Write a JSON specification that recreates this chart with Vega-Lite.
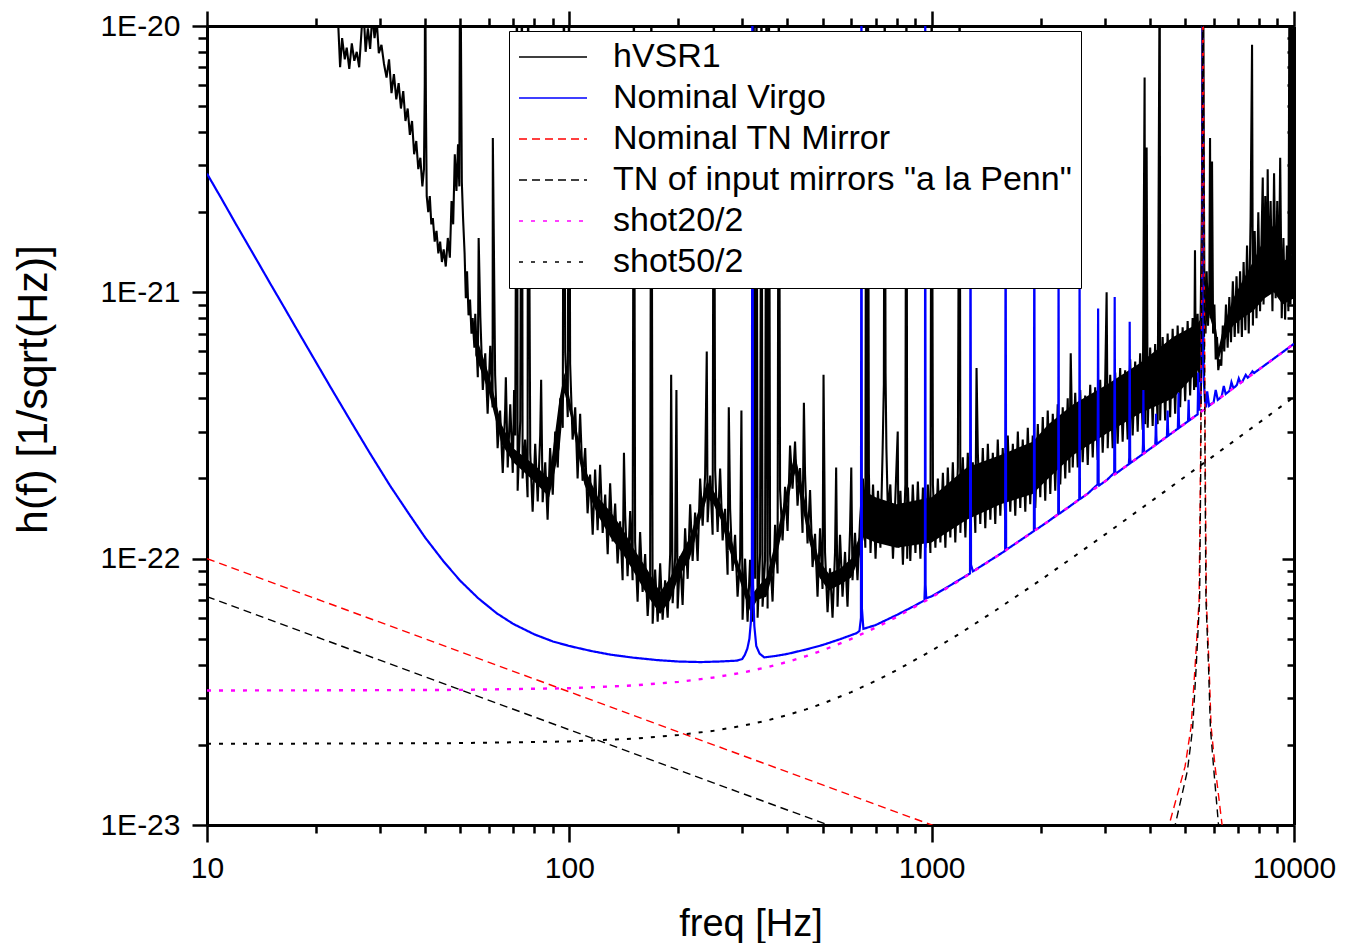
{
"$schema": "https://vega.github.io/schema/vega-lite/v6.json",
"width": 1087, "height": 799,
"autosize": {"type": "none"},
"padding": {"left": 207, "top": 26, "right": 57, "bottom": 118},
"background": "white",
"config": {"view": {"stroke": null}, "font": "Liberation Sans",
 "axis": {"grid": false, "domainColor": "black", "tickColor": "black", "labelColor": "black", "titleColor": "black", "titleFontWeight": "normal", "tickWidth": 2.5, "domainWidth": 3, "labelFont": "Liberation Sans", "titleFont": "Liberation Sans"}},
"data": {"values": [
{"s":"hVSR1","f":22,"h":1.4e-20},{"s":"hVSR1","f":23,"h":1.05e-20},{"s":"hVSR1","f":23.3,"h":7e-21},{"s":"hVSR1","f":23.6,"h":9e-21},{"s":"hVSR1","f":24,"h":7.5e-21},{"s":"hVSR1","f":24.3,"h":8.3e-21},{"s":"hVSR1","f":24.7,"h":6.9e-21},{"s":"hVSR1","f":25.1,"h":8.6e-21},{"s":"hVSR1","f":25.5,"h":7.4e-21},{"s":"hVSR1","f":25.9,"h":8e-21},{"s":"hVSR1","f":26.3,"h":7e-21},{"s":"hVSR1","f":26.7,"h":9.6e-21},{"s":"hVSR1","f":27,"h":1.2e-20},{"s":"hVSR1","f":27.4,"h":8e-21},{"s":"hVSR1","f":27.8,"h":9.8e-21},{"s":"hVSR1","f":28.2,"h":8.2e-21},{"s":"hVSR1","f":28.6,"h":1.1e-20},{"s":"hVSR1","f":29,"h":9e-21},{"s":"hVSR1","f":29.4,"h":1.05e-20},{"s":"hVSR1","f":29.8,"h":7.9e-21},{"s":"hVSR1","f":30.3,"h":8.5e-21},{"s":"hVSR1","f":30.8,"h":7.2e-21},
{"s":"hVSR1","f":31.3,"h":6.4e-21},{"s":"hVSR1","f":31.8,"h":7.5e-21},{"s":"hVSR1","f":32.3,"h":5.6e-21},{"s":"hVSR1","f":32.8,"h":6.6e-21},{"s":"hVSR1","f":33.3,"h":5.3e-21},{"s":"hVSR1","f":33.8,"h":6.1e-21},{"s":"hVSR1","f":34.3,"h":4.9e-21},{"s":"hVSR1","f":34.8,"h":5.7e-21},{"s":"hVSR1","f":35.3,"h":4.4e-21},{"s":"hVSR1","f":35.8,"h":4.9e-21},{"s":"hVSR1","f":36.3,"h":3.9e-21},{"s":"hVSR1","f":36.8,"h":4.4e-21},{"s":"hVSR1","f":37.3,"h":3.3e-21},{"s":"hVSR1","f":37.8,"h":3.7e-21},{"s":"hVSR1","f":38.3,"h":2.9e-21},{"s":"hVSR1","f":38.8,"h":3.2e-21},{"s":"hVSR1","f":39.3,"h":2.5e-21},{"s":"hVSR1","f":39.7,"h":2.9e-21},{"s":"hVSR1","f":39.9,"h":6e-21},{"s":"hVSR1","f":40,"h":2e-20},{"s":"hVSR1","f":40.2,"h":5e-21},{"s":"hVSR1","f":40.4,"h":2.3e-21},{"s":"hVSR1","f":40.8,"h":2e-21},{"s":"hVSR1","f":41.2,"h":2.3e-21},{"s":"hVSR1","f":41.6,"h":1.8e-21},{"s":"hVSR1","f":42,"h":1.9e-21},{"s":"hVSR1","f":42.5,"h":1.55e-21},{"s":"hVSR1","f":43,"h":1.7e-21},{"s":"hVSR1","f":43.5,"h":1.4e-21},{"s":"hVSR1","f":44,"h":1.55e-21},{"s":"hVSR1","f":44.5,"h":1.3e-21},{"s":"hVSR1","f":45,"h":1.45e-21},{"s":"hVSR1","f":45.6,"h":1.25e-21},{"s":"hVSR1","f":46.2,"h":1.6e-21},{"s":"hVSR1","f":46.8,"h":1.35e-21},{"s":"hVSR1","f":47.3,"h":2.2e-21},{"s":"hVSR1","f":47.8,"h":1.8e-21},{"s":"hVSR1","f":48.3,"h":3.3e-21},{"s":"hVSR1","f":48.8,"h":2.4e-21},{"s":"hVSR1","f":49.3,"h":3.6e-21},{"s":"hVSR1","f":49.7,"h":2.5e-21},{"s":"hVSR1","f":49.9,"h":1.5e-20},{"s":"hVSR1","f":50,"h":2e-20},{"s":"hVSR1","f":50.2,"h":1e-20},{"s":"hVSR1","f":50.5,"h":2.6e-21},{"s":"hVSR1","f":50.9,"h":1.9e-21},{"s":"hVSR1","f":51.4,"h":1.4e-21},{"s":"hVSR1","f":51.8,"h":9.5e-22},{"s":"hVSR1","f":52.2,"h":1.2e-21},{"s":"hVSR1","f":52.7,"h":8.2e-22},{"s":"hVSR1","f":53.2,"h":9.4e-22},{"s":"hVSR1","f":53.7,"h":7e-22},{"s":"hVSR1","f":54.1,"h":8e-22},{"s":"hVSR1","f":54.7,"h":6.2e-22},
{"s":"hVSR1","f":55,"h":8.3e-22},{"s":"hVSR1","f":55.9,"h":4.8e-22},{"s":"hVSR1","f":56.2,"h":1.6e-21},{"s":"hVSR1","f":56.8,"h":8.1e-22},{"s":"hVSR1","f":57.7,"h":4.3e-22},{"s":"hVSR1","f":58.6,"h":5.9e-22},{"s":"hVSR1","f":59.5,"h":3.5e-22},{"s":"hVSR1","f":60.5,"h":6.3e-22},{"s":"hVSR1","f":61.4,"h":3.7e-22},{"s":"hVSR1","f":61.5,"h":3.8e-21},{"s":"hVSR1","f":62.4,"h":4.9e-22},{"s":"hVSR1","f":63.4,"h":2.6e-22},{"s":"hVSR1","f":64.4,"h":3.6e-22},{"s":"hVSR1","f":65.5,"h":2.1e-22},{"s":"hVSR1","f":66.5,"h":3.6e-22},{"s":"hVSR1","f":66.8,"h":4.8e-22},{"s":"hVSR1","f":67.6,"h":2.2e-22},{"s":"hVSR1","f":68.7,"h":3.8e-22},{"s":"hVSR1","f":69.8,"h":2.1e-22},{"s":"hVSR1","f":70.4,"h":4.3e-22},{"s":"hVSR1","f":70.9,"h":2.9e-22},{"s":"hVSR1","f":71.7,"h":2e-20},{"s":"hVSR1","f":72,"h":1.8e-22},{"s":"hVSR1","f":73.2,"h":3.3e-22},{"s":"hVSR1","f":74,"h":2e-20},{"s":"hVSR1","f":74.3,"h":2e-22},{"s":"hVSR1","f":75.5,"h":2.8e-22},{"s":"hVSR1","f":76.7,"h":1.7e-22},{"s":"hVSR1","f":76.9,"h":2e-20},{"s":"hVSR1","f":78,"h":2.5e-22},{"s":"hVSR1","f":79.2,"h":1.5e-22},{"s":"hVSR1","f":80.5,"h":2.7e-22},{"s":"hVSR1","f":81.8,"h":1.64e-22},{"s":"hVSR1","f":83.1,"h":2.9e-22},{"s":"hVSR1","f":83.6,"h":4.7e-22},{"s":"hVSR1","f":84.4,"h":1.63e-22},{"s":"hVSR1","f":85.8,"h":2.3e-22},{"s":"hVSR1","f":87.1,"h":1.4e-22},{"s":"hVSR1","f":88.5,"h":2.6e-22},{"s":"hVSR1","f":90,"h":1.74e-22},{"s":"hVSR1","f":91.4,"h":3e-22},{"s":"hVSR1","f":92.9,"h":2.2e-22},{"s":"hVSR1","f":94.4,"h":4e-22},{"s":"hVSR1","f":95.9,"h":3.1e-22},{"s":"hVSR1","f":96.6,"h":2e-20},{"s":"hVSR1","f":97.4,"h":6e-22},{"s":"hVSR1","f":99,"h":3.4e-22},{"s":"hVSR1","f":99.8,"h":2e-20},{"s":"hVSR1","f":100.5,"h":5.4e-22},{"s":"hVSR1","f":102.1,"h":2.8e-22},{"s":"hVSR1","f":103.8,"h":3.7e-22},{"s":"hVSR1","f":105.4,"h":2e-22},{"s":"hVSR1","f":107.1,"h":3.5e-22},{"s":"hVSR1","f":108.8,"h":1.96e-22},{"s":"hVSR1","f":110.6,"h":2.6e-22},{"s":"hVSR1","f":112.3,"h":1.48e-22},{"s":"hVSR1","f":114.1,"h":2.07e-22},{"s":"hVSR1","f":116,"h":1.23e-22},{"s":"hVSR1","f":117.8,"h":2.16e-22},{"s":"hVSR1","f":119.7,"h":1.28e-22},{"s":"hVSR1","f":121.6,"h":2.25e-22},{"s":"hVSR1","f":123.6,"h":1.25e-22},{"s":"hVSR1","f":125.6,"h":1.74e-22},{"s":"hVSR1","f":127.6,"h":1.04e-22},{"s":"hVSR1","f":129.6,"h":1.92e-22},{"s":"hVSR1","f":131.7,"h":1.16e-22},{"s":"hVSR1","f":133.8,"h":1.61e-22},{"s":"hVSR1","f":135.9,"h":9.6e-23},{"s":"hVSR1","f":138.1,"h":1.38e-22},{"s":"hVSR1","f":140.3,"h":8.3e-23},{"s":"hVSR1","f":141.5,"h":2.5e-22},{"s":"hVSR1","f":142.6,"h":1.46e-22},{"s":"hVSR1","f":144.8,"h":8.6e-23},{"s":"hVSR1","f":147.2,"h":1.51e-22},{"s":"hVSR1","f":149.5,"h":8.3e-23},{"s":"hVSR1","f":150.7,"h":2e-20},{"s":"hVSR1","f":151.9,"h":1.16e-22},{"s":"hVSR1","f":154.3,"h":6.9e-23},{"s":"hVSR1","f":156.8,"h":1.26e-22},{"s":"hVSR1","f":159.3,"h":7.5e-23},{"s":"hVSR1","f":161.9,"h":1.04e-22},{"s":"hVSR1","f":164.5,"h":6.1e-23},{"s":"hVSR1","f":167.1,"h":8.7e-23},{"s":"hVSR1","f":168.4,"h":2e-20},{"s":"hVSR1","f":169.8,"h":5.7e-23},{"s":"hVSR1","f":172.5,"h":9.1e-23},{"s":"hVSR1","f":175.3,"h":5.8e-23},{"s":"hVSR1","f":178.1,"h":9.6e-23},{"s":"hVSR1","f":180.9,"h":5.9e-23},{"s":"hVSR1","f":183.8,"h":8.3e-23},{"s":"hVSR1","f":186.8,"h":6e-23},{"s":"hVSR1","f":189.8,"h":1.04e-22},{"s":"hVSR1","f":191,"h":4.9e-22},{"s":"hVSR1","f":192.8,"h":6.8e-23},{"s":"hVSR1","f":195.9,"h":1.01e-22},{"s":"hVSR1","f":197.5,"h":4.3e-22},{"s":"hVSR1","f":199,"h":6.5e-23},{"s":"hVSR1","f":202.2,"h":1.02e-22},{"s":"hVSR1","f":205.4,"h":6.7e-23},{"s":"hVSR1","f":208.7,"h":1.3e-22},{"s":"hVSR1","f":212.1,"h":8.4e-23},{"s":"hVSR1","f":215.5,"h":1.6e-22},{"s":"hVSR1","f":218.9,"h":9.8e-23},{"s":"hVSR1","f":222.4,"h":1.49e-22},{"s":"hVSR1","f":226,"h":9.8e-23},{"s":"hVSR1","f":229.6,"h":2e-22},{"s":"hVSR1","f":233.3,"h":1.33e-22},{"s":"hVSR1","f":237,"h":2.06e-22},{"s":"hVSR1","f":239.5,"h":6e-22},{"s":"hVSR1","f":240.8,"h":1.37e-22},{"s":"hVSR1","f":244.7,"h":2.05e-22},{"s":"hVSR1","f":248.6,"h":1.23e-22},{"s":"hVSR1","f":250.5,"h":2e-20},{"s":"hVSR1","f":252.6,"h":2.15e-22},{"s":"hVSR1","f":256.6,"h":1.26e-22},{"s":"hVSR1","f":260.7,"h":2.18e-22},{"s":"hVSR1","f":264.9,"h":1.17e-22},{"s":"hVSR1","f":269.1,"h":1.54e-22},{"s":"hVSR1","f":273.4,"h":8.7e-23},{"s":"hVSR1","f":275.5,"h":3.7e-22},{"s":"hVSR1","f":277.8,"h":1.54e-22},{"s":"hVSR1","f":282.2,"h":9e-23},{"s":"hVSR1","f":286.7,"h":1.23e-22},{"s":"hVSR1","f":291.3,"h":7.2e-23},{"s":"hVSR1","f":296,"h":1.01e-22},{"s":"hVSR1","f":298.5,"h":3.6e-22},{"s":"hVSR1","f":300.7,"h":5.9e-23},{"s":"hVSR1","f":305.5,"h":1e-22},{"s":"hVSR1","f":310.4,"h":5.8e-23},{"s":"hVSR1","f":315.4,"h":9.9e-23},{"s":"hVSR1","f":320.4,"h":5.8e-23},{"s":"hVSR1","f":322.5,"h":2e-20},{"s":"hVSR1","f":325.6,"h":8.4e-23},{"s":"hVSR1","f":328.5,"h":2e-20},{"s":"hVSR1","f":330.8,"h":6e-23},{"s":"hVSR1","f":336.1,"h":1.04e-22},{"s":"hVSR1","f":339,"h":2e-20},{"s":"hVSR1","f":341.4,"h":6.6e-23},{"s":"hVSR1","f":346.9,"h":9.9e-23},{"s":"hVSR1","f":350,"h":2e-20},{"s":"hVSR1","f":352.5,"h":6.5e-23},{"s":"hVSR1","f":355.5,"h":2e-20},{"s":"hVSR1","f":358.1,"h":1.04e-22},{"s":"hVSR1","f":363.8,"h":6.9e-23},{"s":"hVSR1","f":369.7,"h":1.34e-22},{"s":"hVSR1","f":375.6,"h":8.8e-23},{"s":"hVSR1","f":378.5,"h":2e-20},{"s":"hVSR1","f":381.6,"h":1.81e-22},{"s":"hVSR1","f":387.7,"h":1.17e-22},{"s":"hVSR1","f":393.9,"h":1.86e-22},{"s":"hVSR1","f":400.2,"h":1.27e-22},{"s":"hVSR1","f":406.6,"h":2.66e-22},{"s":"hVSR1","f":413.1,"h":1.83e-22},{"s":"hVSR1","f":419.7,"h":2.75e-22},{"s":"hVSR1","f":426.4,"h":1.58e-22},{"s":"hVSR1","f":433.3,"h":2.19e-22},{"s":"hVSR1","f":440.2,"h":1.25e-22},{"s":"hVSR1","f":444,"h":3.85e-22},{"s":"hVSR1","f":447.2,"h":2.08e-22},{"s":"hVSR1","f":454.4,"h":1.14e-22},{"s":"hVSR1","f":461.7,"h":1.81e-22},{"s":"hVSR1","f":469.1,"h":9.3e-23},{"s":"hVSR1","f":476.6,"h":1.24e-22},{"s":"hVSR1","f":484.2,"h":7.2e-23},{"s":"hVSR1","f":492,"h":1.3e-22},{"s":"hVSR1","f":499.8,"h":7.7e-23},{"s":"hVSR1","f":503,"h":4.9e-22},{"s":"hVSR1","f":507.8,"h":1.06e-22},{"s":"hVSR1","f":516,"h":6.3e-23},{"s":"hVSR1","f":524.2,"h":9.2e-23},{"s":"hVSR1","f":532.6,"h":6e-23},{"s":"hVSR1","f":541.1,"h":1.05e-22},{"s":"hVSR1","f":545,"h":2.2e-22},{"s":"hVSR1","f":549.8,"h":6.6e-23},{"s":"hVSR1","f":558.6,"h":1.23e-22},{"s":"hVSR1","f":567.5,"h":7.2e-23},{"s":"hVSR1","f":576.6,"h":1.06e-22},{"s":"hVSR1","f":585.8,"h":6.6e-23},{"s":"hVSR1","f":595.2,"h":1.27e-22},{"s":"hVSR1","f":600,"h":2.2e-22},{"s":"hVSR1","f":604.7,"h":8.3e-23},{"s":"hVSR1","f":614.4,"h":1.25e-22},{"s":"hVSR1","f":624.2,"h":8.3e-23},{"s":"hVSR1","f":634.2,"h":1.38e-22},
{"s":"hVSR1","f":646,"h":2e-22},{"s":"hVSR1","f":656,"h":1.1e-22},{"s":"hVSR1","f":660,"h":2e-20},{"s":"hVSR1","f":664,"h":1.3e-22},{"s":"hVSR1","f":667,"h":2e-20},{"s":"hVSR1","f":671,"h":2.1e-22},{"s":"hVSR1","f":678,"h":1.05e-22},{"s":"hVSR1","f":689,"h":1.9e-22},{"s":"hVSR1","f":700,"h":1e-22},{"s":"hVSR1","f":711,"h":1.8e-22},{"s":"hVSR1","f":722,"h":1.1e-22},{"s":"hVSR1","f":732,"h":2.5e-22},{"s":"hVSR1","f":738,"h":4.5e-22},{"s":"hVSR1","f":742,"h":2e-20},{"s":"hVSR1","f":746,"h":5e-22},{"s":"hVSR1","f":750,"h":2.6e-22},{"s":"hVSR1","f":757,"h":1.5e-22},{"s":"hVSR1","f":769,"h":1.9e-22},{"s":"hVSR1","f":782,"h":1e-22},{"s":"hVSR1","f":794,"h":1.7e-22},{"s":"hVSR1","f":806,"h":3e-22},{"s":"hVSR1","f":810,"h":1.1e-22},{"s":"hVSR1","f":820,"h":1.8e-22},{"s":"hVSR1","f":833,"h":9.5e-23},{"s":"hVSR1","f":846,"h":1.9e-22},{"s":"hVSR1","f":852,"h":2e-20},{"s":"hVSR1","f":856,"h":1e-22},{"s":"hVSR1","f":860,"h":1.85e-22},{"s":"hVSR1","f":873,"h":9.8e-23},{"s":"hVSR1","f":887,"h":1.9e-22},{"s":"hVSR1","f":902,"h":1.05e-22},{"s":"hVSR1","f":916,"h":1.95e-22},{"s":"hVSR1","f":931,"h":1e-22},{"s":"hVSR1","f":946,"h":1.85e-22},{"s":"hVSR1","f":961,"h":1.1e-22},{"s":"hVSR1","f":976,"h":1.9e-22},{"s":"hVSR1","f":992,"h":1.05e-22},{"s":"hVSR1","f":1000,"h":2e-20},{"s":"hVSR1","f":1008,"h":1.9e-22},{"s":"hVSR1","f":1024,"h":1.1e-22},{"s":"hVSR1","f":1040,"h":2e-22},{"s":"hVSR1","f":1057,"h":1.15e-22},{"s":"hVSR1","f":1074,"h":2.1e-22},{"s":"hVSR1","f":1091,"h":1.1e-22},{"s":"hVSR1","f":1108,"h":2.2e-22},{"s":"hVSR1","f":1126,"h":1.2e-22},{"s":"hVSR1","f":1144,"h":2.3e-22},{"s":"hVSR1","f":1162,"h":1.15e-22},{"s":"hVSR1","f":1181,"h":2.2e-22},{"s":"hVSR1","f":1195,"h":2e-20},{"s":"hVSR1","f":1200,"h":1.25e-22},{"s":"hVSR1","f":1219,"h":2.4e-22},{"s":"hVSR1","f":1239,"h":1.2e-22},{"s":"hVSR1","f":1258,"h":2.5e-22},{"s":"hVSR1","f":1279,"h":1.3e-22},{"s":"hVSR1","f":1299,"h":2.3e-22},{"s":"hVSR1","f":1320,"h":1.25e-22},{"s":"hVSR1","f":1330,"h":5.2e-22},{"s":"hVSR1","f":1341,"h":2.5e-22},{"s":"hVSR1","f":1362,"h":1.35e-22},{"s":"hVSR1","f":1384,"h":2.6e-22},{"s":"hVSR1","f":1406,"h":1.3e-22},{"s":"hVSR1","f":1429,"h":2.7e-22},{"s":"hVSR1","f":1452,"h":1.4e-22},{"s":"hVSR1","f":1475,"h":2.5e-22},{"s":"hVSR1","f":1498,"h":1.35e-22},{"s":"hVSR1","f":1522,"h":2.8e-22},{"s":"hVSR1","f":1547,"h":1.45e-22},{"s":"hVSR1","f":1571,"h":2.6e-22},{"s":"hVSR1","f":1597,"h":1.4e-22},{"s":"hVSR1","f":1622,"h":2.9e-22},{"s":"hVSR1","f":1648,"h":1.5e-22},{"s":"hVSR1","f":1675,"h":2.7e-22},{"s":"hVSR1","f":1701,"h":1.45e-22},{"s":"hVSR1","f":1729,"h":3e-22},{"s":"hVSR1","f":1756,"h":1.55e-22},{"s":"hVSR1","f":1784,"h":2.8e-22},{"s":"hVSR1","f":1813,"h":1.5e-22},{"s":"hVSR1","f":1842,"h":3.1e-22},{"s":"hVSR1","f":1871,"h":1.6e-22},{"s":"hVSR1","f":1901,"h":2.9e-22},{"s":"hVSR1","f":1932,"h":1.55e-22},{"s":"hVSR1","f":1963,"h":3.2e-22},{"s":"hVSR1","f":1994,"h":1.7e-22},{"s":"hVSR1","f":2026,"h":3.4e-22},{"s":"hVSR1","f":2058,"h":1.65e-22},{"s":"hVSR1","f":2091,"h":3.6e-22},{"s":"hVSR1","f":2125,"h":1.75e-22},{"s":"hVSR1","f":2159,"h":3.5e-22},{"s":"hVSR1","f":2193,"h":1.8e-22},{"s":"hVSR1","f":2228,"h":3.8e-22},{"s":"hVSR1","f":2264,"h":1.9e-22},{"s":"hVSR1","f":2300,"h":3.7e-22},{"s":"hVSR1","f":2337,"h":2e-22},{"s":"hVSR1","f":2374,"h":4e-22},{"s":"hVSR1","f":2400,"h":2.1e-22},{"s":"hVSR1","f":2420,"h":5.9e-22},{"s":"hVSR1","f":2451,"h":2.2e-22},{"s":"hVSR1","f":2490,"h":4.2e-22},{"s":"hVSR1","f":2530,"h":2.2e-22},{"s":"hVSR1","f":2570,"h":4.3e-22},{"s":"hVSR1","f":2611,"h":2.3e-22},{"s":"hVSR1","f":2653,"h":4.1e-22},{"s":"hVSR1","f":2696,"h":2.25e-22},{"s":"hVSR1","f":2739,"h":4.5e-22},{"s":"hVSR1","f":2783,"h":2.4e-22},{"s":"hVSR1","f":2827,"h":4.4e-22},{"s":"hVSR1","f":2872,"h":2.35e-22},{"s":"hVSR1","f":2918,"h":4.7e-22},{"s":"hVSR1","f":2965,"h":2.5e-22},{"s":"hVSR1","f":3012,"h":4.6e-22},{"s":"hVSR1","f":3040,"h":1e-21},{"s":"hVSR1","f":3061,"h":2.6e-22},{"s":"hVSR1","f":3110,"h":4.9e-22},{"s":"hVSR1","f":3159,"h":2.6e-22},{"s":"hVSR1","f":3210,"h":5e-22},{"s":"hVSR1","f":3261,"h":2.7e-22},{"s":"hVSR1","f":3313,"h":5.2e-22},{"s":"hVSR1","f":3366,"h":2.75e-22},{"s":"hVSR1","f":3420,"h":5.1e-22},{"s":"hVSR1","f":3475,"h":2.8e-22},{"s":"hVSR1","f":3531,"h":5.6e-22},{"s":"hVSR1","f":3587,"h":2.9e-22},{"s":"hVSR1","f":3645,"h":5.5e-22},{"s":"hVSR1","f":3703,"h":3e-22},{"s":"hVSR1","f":3762,"h":5.9e-22},{"s":"hVSR1","f":3822,"h":3.05e-22},{"s":"hVSR1","f":3870,"h":6.4e-21},{"s":"hVSR1","f":3883,"h":3.2e-22},{"s":"hVSR1","f":3920,"h":3.5e-21},{"s":"hVSR1","f":3946,"h":3.1e-22},{"s":"hVSR1","f":4009,"h":6.2e-22},{"s":"hVSR1","f":4073,"h":3.15e-22},{"s":"hVSR1","f":4138,"h":6.4e-22},{"s":"hVSR1","f":4204,"h":3.2e-22},{"s":"hVSR1","f":4260,"h":2e-20},{"s":"hVSR1","f":4272,"h":3.3e-22},{"s":"hVSR1","f":4340,"h":6.8e-22},{"s":"hVSR1","f":4410,"h":3.3e-22},{"s":"hVSR1","f":4480,"h":7e-22},{"s":"hVSR1","f":4552,"h":3.4e-22},{"s":"hVSR1","f":4625,"h":7.3e-22},{"s":"hVSR1","f":4699,"h":3.5e-22},{"s":"hVSR1","f":4774,"h":7.5e-22},{"s":"hVSR1","f":4850,"h":3.7e-22},{"s":"hVSR1","f":4928,"h":7.4e-22},{"s":"hVSR1","f":5007,"h":3.9e-22},{"s":"hVSR1","f":5087,"h":7.8e-22},{"s":"hVSR1","f":5168,"h":4.1e-22},{"s":"hVSR1","f":5251,"h":8e-22},{"s":"hVSR1","f":5300,"h":4.3e-22},{"s":"hVSR1","f":5330,"h":1.44e-21},{"s":"hVSR1","f":5360,"h":4.4e-22},{"s":"hVSR1","f":5420,"h":8.3e-22},{"s":"hVSR1","f":5480,"h":4.6e-22},{"s":"hVSR1","f":5530,"h":9e-22},{"s":"hVSR1","f":5570,"h":2e-21},{"s":"hVSR1","f":5595,"h":2e-20},{"s":"hVSR1","f":5615,"h":2e-20},{"s":"hVSR1","f":5640,"h":2.5e-21},{"s":"hVSR1","f":5660,"h":1e-21},{"s":"hVSR1","f":5700,"h":7e-22},{"s":"hVSR1","f":5740,"h":1.2e-21},{"s":"hVSR1","f":5790,"h":7.5e-22},{"s":"hVSR1","f":5840,"h":1.1e-21},{"s":"hVSR1","f":5865,"h":3.8e-21},{"s":"hVSR1","f":5890,"h":8e-22},{"s":"hVSR1","f":5940,"h":3.1e-21},{"s":"hVSR1","f":5980,"h":7e-22},{"s":"hVSR1","f":6030,"h":9e-22},{"s":"hVSR1","f":6080,"h":5.6e-22},{"s":"hVSR1","f":6130,"h":6.8e-22},{"s":"hVSR1","f":6180,"h":5.1e-22},{"s":"hVSR1","f":6240,"h":5.6e-22},{"s":"hVSR1","f":6300,"h":5.3e-22},{"s":"hVSR1","f":6360,"h":7.5e-22},{"s":"hVSR1","f":6420,"h":6e-22},{"s":"hVSR1","f":6490,"h":9e-22},{"s":"hVSR1","f":6560,"h":6.2e-22},{"s":"hVSR1","f":6630,"h":9.6e-22},{"s":"hVSR1","f":6700,"h":6.5e-22},{"s":"hVSR1","f":6780,"h":1.1e-21},{"s":"hVSR1","f":6860,"h":6.8e-22},{"s":"hVSR1","f":6940,"h":1.15e-21},{"s":"hVSR1","f":7020,"h":7e-22},{"s":"hVSR1","f":7100,"h":1.2e-21},{"s":"hVSR1","f":7180,"h":6.8e-22},{"s":"hVSR1","f":7260,"h":1.3e-21},{"s":"hVSR1","f":7340,"h":7.2e-22},{"s":"hVSR1","f":7420,"h":1.5e-21},{"s":"hVSR1","f":7500,"h":7e-22},{"s":"hVSR1","f":7590,"h":1.9e-21},{"s":"hVSR1","f":7660,"h":8.5e-21},{"s":"hVSR1","f":7700,"h":7.5e-22},{"s":"hVSR1","f":7790,"h":1.7e-21},{"s":"hVSR1","f":7880,"h":8e-22},{"s":"hVSR1","f":7970,"h":2e-21},{"s":"hVSR1","f":8060,"h":8.5e-22},{"s":"hVSR1","f":8200,"h":2.7e-21},{"s":"hVSR1","f":8240,"h":9e-22},{"s":"hVSR1","f":8330,"h":2.3e-21},{"s":"hVSR1","f":8420,"h":1e-21},{"s":"hVSR1","f":8460,"h":2.9e-21},{"s":"hVSR1","f":8520,"h":1.1e-21},{"s":"hVSR1","f":8620,"h":2.2e-21},{"s":"hVSR1","f":8720,"h":8.5e-22},{"s":"hVSR1","f":8810,"h":2.8e-21},{"s":"hVSR1","f":8900,"h":9.5e-22},{"s":"hVSR1","f":8990,"h":2.2e-21},{"s":"hVSR1","f":9080,"h":1e-21},{"s":"hVSR1","f":9160,"h":3.2e-21},{"s":"hVSR1","f":9250,"h":8e-22},{"s":"hVSR1","f":9350,"h":1.6e-21},{"s":"hVSR1","f":9450,"h":7.9e-22},{"s":"hVSR1","f":9560,"h":1.5e-21},{"s":"hVSR1","f":9650,"h":8.5e-22},{"s":"hVSR1","f":9720,"h":2e-20},{"s":"hVSR1","f":9780,"h":9e-22},{"s":"hVSR1","f":9850,"h":2e-20},{"s":"hVSR1","f":9920,"h":1.4e-21},{"s":"hVSR1","f":10000,"h":1e-21},
{"s":"Nominal Virgo","f":10,"h":2.79e-21},{"s":"Nominal Virgo","f":11,"h":2.23e-21},{"s":"Nominal Virgo","f":12,"h":1.81e-21},{"s":"Nominal Virgo","f":13,"h":1.5e-21},{"s":"Nominal Virgo","f":14,"h":1.26e-21},{"s":"Nominal Virgo","f":15,"h":1.07e-21},{"s":"Nominal Virgo","f":16,"h":9.21e-22},{"s":"Nominal Virgo","f":18,"h":6.98e-22},{"s":"Nominal Virgo","f":20,"h":5.46e-22},{"s":"Nominal Virgo","f":22,"h":4.37e-22},{"s":"Nominal Virgo","f":25,"h":3.26e-22},{"s":"Nominal Virgo","f":28,"h":2.52e-22},{"s":"Nominal Virgo","f":32,"h":1.88e-22},{"s":"Nominal Virgo","f":36,"h":1.48e-22},{"s":"Nominal Virgo","f":40,"h":1.2e-22},{"s":"Nominal Virgo","f":45,"h":9.75e-23},{"s":"Nominal Virgo","f":50,"h":8.26e-23},{"s":"Nominal Virgo","f":56,"h":7.11e-23},{"s":"Nominal Virgo","f":63,"h":6.24e-23},{"s":"Nominal Virgo","f":70,"h":5.69e-23},{"s":"Nominal Virgo","f":80,"h":5.2e-23},{"s":"Nominal Virgo","f":90,"h":4.89e-23},{"s":"Nominal Virgo","f":100,"h":4.7e-23},{"s":"Nominal Virgo","f":115,"h":4.5e-23},{"s":"Nominal Virgo","f":130,"h":4.36e-23},{"s":"Nominal Virgo","f":150,"h":4.25e-23},{"s":"Nominal Virgo","f":175,"h":4.16e-23},{"s":"Nominal Virgo","f":200,"h":4.11e-23},{"s":"Nominal Virgo","f":230,"h":4.09e-23},{"s":"Nominal Virgo","f":260,"h":4.11e-23},{"s":"Nominal Virgo","f":290,"h":4.14e-23},{"s":"Nominal Virgo","f":300,"h":4.2e-23},{"s":"Nominal Virgo","f":305,"h":4.35e-23},{"s":"Nominal Virgo","f":310,"h":4.6e-23},{"s":"Nominal Virgo","f":314,"h":5e-23},{"s":"Nominal Virgo","f":317,"h":5.8e-23},{"s":"Nominal Virgo","f":319,"h":8e-23},{"s":"Nominal Virgo","f":320,"h":2e-20},{"s":"Nominal Virgo","f":321.5,"h":8e-23},{"s":"Nominal Virgo","f":324,"h":5.6e-23},{"s":"Nominal Virgo","f":328,"h":4.7e-23},{"s":"Nominal Virgo","f":335,"h":4.4e-23},{"s":"Nominal Virgo","f":345,"h":4.26e-23},{"s":"Nominal Virgo","f":370,"h":4.31e-23},{"s":"Nominal Virgo","f":400,"h":4.39e-23},{"s":"Nominal Virgo","f":450,"h":4.56e-23},{"s":"Nominal Virgo","f":500,"h":4.74e-23},{"s":"Nominal Virgo","f":560,"h":4.99e-23},{"s":"Nominal Virgo","f":620,"h":5.25e-23},{"s":"Nominal Virgo","f":632,"h":5.35e-23},{"s":"Nominal Virgo","f":638,"h":6e-23},{"s":"Nominal Virgo","f":640,"h":2e-20},{"s":"Nominal Virgo","f":642,"h":6.5e-23},{"s":"Nominal Virgo","f":648,"h":5.45e-23},{"s":"Nominal Virgo","f":700,"h":5.63e-23},{"s":"Nominal Virgo","f":800,"h":6.14e-23},{"s":"Nominal Virgo","f":900,"h":6.67e-23},{"s":"Nominal Virgo","f":955,"h":6.97e-23},{"s":"Nominal Virgo","f":958,"h":8e-23},{"s":"Nominal Virgo","f":960,"h":2e-20},{"s":"Nominal Virgo","f":962,"h":8e-23},{"s":"Nominal Virgo","f":966,"h":7.1e-23},{"s":"Nominal Virgo","f":1000,"h":7.22e-23},{"s":"Nominal Virgo","f":1100,"h":7.79e-23},{"s":"Nominal Virgo","f":1200,"h":8.37e-23},{"s":"Nominal Virgo","f":1276,"h":8.8e-23},{"s":"Nominal Virgo","f":1280,"h":3e-21},{"s":"Nominal Virgo","f":1284,"h":9.5e-23},{"s":"Nominal Virgo","f":1300,"h":8.96e-23},{"s":"Nominal Virgo","f":1450,"h":9.85e-23},{"s":"Nominal Virgo","f":1595,"h":1.07e-22},{"s":"Nominal Virgo","f":1600,"h":3e-21},{"s":"Nominal Virgo","f":1605,"h":1.1e-22},{"s":"Nominal Virgo","f":1620,"h":1.088e-22},{"s":"Nominal Virgo","f":1750,"h":1.168e-22},{"s":"Nominal Virgo","f":1915,"h":1.27e-22},{"s":"Nominal Virgo","f":1920,"h":3e-21},{"s":"Nominal Virgo","f":1925,"h":1.3e-22},{"s":"Nominal Virgo","f":1950,"h":1.29e-22},{"s":"Nominal Virgo","f":2100,"h":1.382e-22},{"s":"Nominal Virgo","f":2235,"h":1.47e-22},{"s":"Nominal Virgo","f":2240,"h":1.5e-21},{"s":"Nominal Virgo","f":2245,"h":1.5e-22},{"s":"Nominal Virgo","f":2260,"h":1.481e-22},{"s":"Nominal Virgo","f":2400,"h":1.569e-22},{"s":"Nominal Virgo","f":2555,"h":1.67e-22},{"s":"Nominal Virgo","f":2560,"h":1.5e-21},{"s":"Nominal Virgo","f":2565,"h":1.7e-22},{"s":"Nominal Virgo","f":2580,"h":1.682e-22},{"s":"Nominal Virgo","f":2700,"h":1.757e-22},{"s":"Nominal Virgo","f":2870,"h":1.9e-22},{"s":"Nominal Virgo","f":2880,"h":8.7e-22},{"s":"Nominal Virgo","f":2890,"h":1.92e-22},{"s":"Nominal Virgo","f":2900,"h":1.883e-22},{"s":"Nominal Virgo","f":3050,"h":1.978e-22},{"s":"Nominal Virgo","f":3190,"h":2.1e-22},{"s":"Nominal Virgo","f":3200,"h":9.6e-22},{"s":"Nominal Virgo","f":3210,"h":2.12e-22},{"s":"Nominal Virgo","f":3220,"h":2.085e-22},{"s":"Nominal Virgo","f":3500,"h":2.263e-22},{"s":"Nominal Virgo","f":3510,"h":2.4e-22},{"s":"Nominal Virgo","f":3520,"h":7.75e-22},{"s":"Nominal Virgo","f":3530,"h":2.4e-22},{"s":"Nominal Virgo","f":3540,"h":2.288e-22},{"s":"Nominal Virgo","f":3820,"h":2.466e-22},{"s":"Nominal Virgo","f":3830,"h":2.7e-22},{"s":"Nominal Virgo","f":3840,"h":4.3e-22},{"s":"Nominal Virgo","f":3850,"h":2.7e-22},{"s":"Nominal Virgo","f":3860,"h":2.491e-22},{"s":"Nominal Virgo","f":4140,"h":2.669e-22},{"s":"Nominal Virgo","f":4150,"h":2.9e-22},{"s":"Nominal Virgo","f":4160,"h":3.5e-22},{"s":"Nominal Virgo","f":4170,"h":2.9e-22},{"s":"Nominal Virgo","f":4180,"h":2.694e-22},{"s":"Nominal Virgo","f":4460,"h":2.872e-22},{"s":"Nominal Virgo","f":4470,"h":3.2e-22},{"s":"Nominal Virgo","f":4480,"h":3.6e-22},{"s":"Nominal Virgo","f":4490,"h":3.1e-22},{"s":"Nominal Virgo","f":4500,"h":2.898e-22},{"s":"Nominal Virgo","f":4780,"h":3.076e-22},{"s":"Nominal Virgo","f":4790,"h":3.5e-22},{"s":"Nominal Virgo","f":4800,"h":4.2e-22},{"s":"Nominal Virgo","f":4810,"h":3.4e-22},{"s":"Nominal Virgo","f":4820,"h":3.101e-22},{"s":"Nominal Virgo","f":5100,"h":3.28e-22},{"s":"Nominal Virgo","f":5110,"h":3.6e-22},{"s":"Nominal Virgo","f":5120,"h":3.95e-22},{"s":"Nominal Virgo","f":5130,"h":3.5e-22},{"s":"Nominal Virgo","f":5140,"h":3.305e-22},{"s":"Nominal Virgo","f":5420,"h":3.483e-22},{"s":"Nominal Virgo","f":5430,"h":4e-22},{"s":"Nominal Virgo","f":5440,"h":5e-22},{"s":"Nominal Virgo","f":5450,"h":4e-22},{"s":"Nominal Virgo","f":5470,"h":3.6e-22},{"s":"Nominal Virgo","f":5520,"h":4e-22},{"s":"Nominal Virgo","f":5560,"h":5.5e-22},{"s":"Nominal Virgo","f":5585,"h":1.2e-21},{"s":"Nominal Virgo","f":5600,"h":2e-20},{"s":"Nominal Virgo","f":5615,"h":1.2e-21},{"s":"Nominal Virgo","f":5640,"h":4.6e-22},{"s":"Nominal Virgo","f":5680,"h":3.9e-22},{"s":"Nominal Virgo","f":5720,"h":3.7e-22},{"s":"Nominal Virgo","f":5760,"h":4.25e-22},{"s":"Nominal Virgo","f":5830,"h":3.75e-22},{"s":"Nominal Virgo","f":5920,"h":3.82e-22},{"s":"Nominal Virgo","f":6000,"h":3.86e-22},{"s":"Nominal Virgo","f":6080,"h":4.3e-22},{"s":"Nominal Virgo","f":6160,"h":3.95e-22},{"s":"Nominal Virgo","f":6240,"h":4e-22},{"s":"Nominal Virgo","f":6320,"h":4.08e-22},{"s":"Nominal Virgo","f":6400,"h":4.45e-22},{"s":"Nominal Virgo","f":6480,"h":4.15e-22},{"s":"Nominal Virgo","f":6560,"h":4.21e-22},{"s":"Nominal Virgo","f":6640,"h":4.27e-22},{"s":"Nominal Virgo","f":6720,"h":4.6e-22},{"s":"Nominal Virgo","f":6800,"h":4.37e-22},{"s":"Nominal Virgo","f":6880,"h":4.42e-22},{"s":"Nominal Virgo","f":6960,"h":4.5e-22},{"s":"Nominal Virgo","f":7040,"h":4.75e-22},{"s":"Nominal Virgo","f":7120,"h":4.57e-22},{"s":"Nominal Virgo","f":7200,"h":4.62e-22},{"s":"Nominal Virgo","f":7360,"h":4.9e-22},{"s":"Nominal Virgo","f":7450,"h":4.78e-22},{"s":"Nominal Virgo","f":7520,"h":4.83e-22},{"s":"Nominal Virgo","f":7680,"h":5.05e-22},{"s":"Nominal Virgo","f":7760,"h":4.98e-22},{"s":"Nominal Virgo","f":8000,"h":5.13e-22},{"s":"Nominal Virgo","f":8500,"h":5.45e-22},{"s":"Nominal Virgo","f":9000,"h":5.77e-22},{"s":"Nominal Virgo","f":9500,"h":6.09e-22},{"s":"Nominal Virgo","f":10000,"h":6.41e-22},
{"s":"Nominal TN Mirror","f":10,"h":1e-22},{"s":"Nominal TN Mirror","f":100,"h":3.162e-23},{"s":"Nominal TN Mirror","f":1000,"h":1e-23},{"s":"Nominal TN Mirror","f":2000,"h":7.07e-24},{"s":"Nominal TN Mirror","f":3000,"h":5.77e-24},{"s":"Nominal TN Mirror","f":4000,"h":5e-24},{"s":"Nominal TN Mirror","f":4300,"h":6.5e-24},{"s":"Nominal TN Mirror","f":4521,"h":1e-23},{"s":"Nominal TN Mirror","f":5005,"h":1.66e-23},{"s":"Nominal TN Mirror","f":5200,"h":2.34e-23},{"s":"Nominal TN Mirror","f":5333,"h":3.93e-23},{"s":"Nominal TN Mirror","f":5471,"h":7e-23},{"s":"Nominal TN Mirror","f":5520,"h":2.3e-22},{"s":"Nominal TN Mirror","f":5570,"h":1.5e-21},{"s":"Nominal TN Mirror","f":5595,"h":1e-20},{"s":"Nominal TN Mirror","f":5605,"h":5e-20},{"s":"Nominal TN Mirror","f":5620,"h":1e-20},{"s":"Nominal TN Mirror","f":5650,"h":1.5e-21},{"s":"Nominal TN Mirror","f":5690,"h":2.3e-22},{"s":"Nominal TN Mirror","f":5730,"h":7e-23},{"s":"Nominal TN Mirror","f":5830,"h":3.93e-23},{"s":"Nominal TN Mirror","f":5904,"h":2.34e-23},{"s":"Nominal TN Mirror","f":6055,"h":1.66e-23},{"s":"Nominal TN Mirror","f":6332,"h":1e-23},{"s":"Nominal TN Mirror","f":6700,"h":6.5e-24},{"s":"Nominal TN Mirror","f":8000,"h":4e-24},{"s":"Nominal TN Mirror","f":10000,"h":3.16e-24},
{"s":"TN of input mirrors \"a la Penn\"","f":10,"h":7.2e-23},{"s":"TN of input mirrors \"a la Penn\"","f":100,"h":2.277e-23},{"s":"TN of input mirrors \"a la Penn\"","f":518,"h":1e-23},{"s":"TN of input mirrors \"a la Penn\"","f":1000,"h":7.2e-24},{"s":"TN of input mirrors \"a la Penn\"","f":3000,"h":4.16e-24},{"s":"TN of input mirrors \"a la Penn\"","f":4300,"h":5e-24},{"s":"TN of input mirrors \"a la Penn\"","f":4700,"h":1e-23},{"s":"TN of input mirrors \"a la Penn\"","f":5080,"h":1.6e-23},{"s":"TN of input mirrors \"a la Penn\"","f":5250,"h":2.3e-23},{"s":"TN of input mirrors \"a la Penn\"","f":5370,"h":3.9e-23},{"s":"TN of input mirrors \"a la Penn\"","f":5490,"h":7e-23},{"s":"TN of input mirrors \"a la Penn\"","f":5530,"h":2.3e-22},{"s":"TN of input mirrors \"a la Penn\"","f":5575,"h":1.5e-21},{"s":"TN of input mirrors \"a la Penn\"","f":5597,"h":1e-20},{"s":"TN of input mirrors \"a la Penn\"","f":5605,"h":5e-20},{"s":"TN of input mirrors \"a la Penn\"","f":5617,"h":1e-20},{"s":"TN of input mirrors \"a la Penn\"","f":5645,"h":1.5e-21},{"s":"TN of input mirrors \"a la Penn\"","f":5680,"h":2.3e-22},{"s":"TN of input mirrors \"a la Penn\"","f":5715,"h":7e-23},{"s":"TN of input mirrors \"a la Penn\"","f":5810,"h":3.9e-23},{"s":"TN of input mirrors \"a la Penn\"","f":5880,"h":2.3e-23},{"s":"TN of input mirrors \"a la Penn\"","f":6010,"h":1.6e-23},{"s":"TN of input mirrors \"a la Penn\"","f":6190,"h":1e-23},{"s":"TN of input mirrors \"a la Penn\"","f":6600,"h":5e-24},{"s":"TN of input mirrors \"a la Penn\"","f":10000,"h":2.28e-24},
{"s":"shot20/2","f":10,"h":3.2e-23},{"s":"shot20/2","f":20,"h":3.203e-23},{"s":"shot20/2","f":50,"h":3.216e-23},{"s":"shot20/2","f":100,"h":3.263e-23},{"s":"shot20/2","f":150,"h":3.341e-23},{"s":"shot20/2","f":200,"h":3.447e-23},{"s":"shot20/2","f":250,"h":3.578e-23},{"s":"shot20/2","f":300,"h":3.732e-23},{"s":"shot20/2","f":350,"h":3.906e-23},{"s":"shot20/2","f":400,"h":4.098e-23},{"s":"shot20/2","f":450,"h":4.305e-23},{"s":"shot20/2","f":500,"h":4.525e-23},{"s":"shot20/2","f":600,"h":4.999e-23},{"s":"shot20/2","f":700,"h":5.506e-23},{"s":"shot20/2","f":800,"h":6.038e-23},{"s":"shot20/2","f":1000,"h":7.155e-23},{"s":"shot20/2","f":1200,"h":8.32e-23},{"s":"shot20/2","f":1500,"h":1.012e-22},{"s":"shot20/2","f":2000,"h":1.319e-22},{"s":"shot20/2","f":2500,"h":1.632e-22},{"s":"shot20/2","f":3000,"h":1.946e-22},{"s":"shot20/2","f":4000,"h":2.58e-22},{"s":"shot20/2","f":5000,"h":3.216e-22},{"s":"shot20/2","f":6000,"h":3.853e-22},{"s":"shot20/2","f":7000,"h":4.491e-22},{"s":"shot20/2","f":8000,"h":5.13e-22},{"s":"shot20/2","f":10000,"h":6.408e-22},
{"s":"shot50/2","f":10,"h":2.02e-23},{"s":"shot50/2","f":20,"h":2.021e-23},{"s":"shot50/2","f":50,"h":2.03e-23},{"s":"shot50/2","f":100,"h":2.06e-23},{"s":"shot50/2","f":150,"h":2.109e-23},{"s":"shot50/2","f":200,"h":2.176e-23},{"s":"shot50/2","f":250,"h":2.258e-23},{"s":"shot50/2","f":300,"h":2.356e-23},{"s":"shot50/2","f":350,"h":2.465e-23},{"s":"shot50/2","f":400,"h":2.587e-23},{"s":"shot50/2","f":450,"h":2.717e-23},{"s":"shot50/2","f":500,"h":2.856e-23},{"s":"shot50/2","f":600,"h":3.155e-23},{"s":"shot50/2","f":700,"h":3.475e-23},{"s":"shot50/2","f":800,"h":3.811e-23},{"s":"shot50/2","f":1000,"h":4.516e-23},{"s":"shot50/2","f":1200,"h":5.25e-23},{"s":"shot50/2","f":1500,"h":6.39e-23},{"s":"shot50/2","f":2000,"h":8.32e-23},{"s":"shot50/2","f":2500,"h":1.03e-22},{"s":"shot50/2","f":3000,"h":1.228e-22},{"s":"shot50/2","f":4000,"h":1.628e-22},{"s":"shot50/2","f":5000,"h":2.03e-22},{"s":"shot50/2","f":6000,"h":2.432e-22},{"s":"shot50/2","f":7000,"h":2.835e-22},{"s":"shot50/2","f":8000,"h":3.238e-22},{"s":"shot50/2","f":10000,"h":4.045e-22}
]},
"encoding": {
 "x": {"field": "f", "type": "quantitative", "scale": {"type": "log", "domain": [10, 10000], "nice": false}, "axis": null},
 "y": {"field": "h", "type": "quantitative", "scale": {"type": "log", "domain": [1e-23, 1e-20], "nice": false}, "axis": null},
 "color": {"field": "s", "type": "nominal",
   "scale": {"domain": ["hVSR1", "Nominal Virgo", "Nominal TN Mirror", "TN of input mirrors \"a la Penn\"", "shot20/2", "shot50/2"], "range": ["#000000", "#0000ff", "#ff0000", "#000000", "#ff00ff", "#000000"]},
   "legend": {"title": null, "orient": "none", "legendX": 302, "legendY": 5, "direction": "vertical", "fillColor": "white", "strokeColor": "black", "padding": 9, "symbolType": "stroke", "symbolSize": 4624, "symbolStrokeWidth": 1.6, "labelFont": "Liberation Sans", "labelFontSize": 34, "labelColor": "black", "labelOffset": 25, "labelLimit": 1000, "rowPadding": 7, "clipHeight": 34}},
 "strokeDash": {"field": "s", "type": "nominal",
   "scale": {"domain": ["hVSR1", "Nominal Virgo", "Nominal TN Mirror", "TN of input mirrors \"a la Penn\"", "shot20/2", "shot50/2"], "range": [[1, 0], [1, 0], [8, 5], [8, 5], [4, 8], [4, 8]]},
   "legend": {"title": null, "orient": "none", "legendX": 302, "legendY": 5, "direction": "vertical", "fillColor": "white", "strokeColor": "black", "padding": 9, "symbolType": "stroke", "symbolSize": 4624, "symbolStrokeWidth": 1.6, "labelFont": "Liberation Sans", "labelFontSize": 34, "labelColor": "black", "labelOffset": 25, "labelLimit": 1000, "rowPadding": 7, "clipHeight": 34}}
},
"layer": [
 {"data": {"values": [
  {"f":55,"lo":5.8e-22,"hi":7e-22},{"f":60,"lo":4.2e-22,"hi":4.9e-22},{"f":65,"lo":2.7e-22,"hi":3.2e-22},{"f":70,"lo":2.3e-22,"hi":2.6e-22},{"f":80,"lo":1.95e-22,"hi":2.25e-22},{"f":88,"lo":1.7e-22,"hi":2e-22},{"f":94,"lo":2.6e-22,"hi":4e-22},{"f":97,"lo":4.2e-22,"hi":5e-22},{"f":101,"lo":3.4e-22,"hi":3.8e-22},{"f":105,"lo":2.6e-22,"hi":3e-22},{"f":110,"lo":1.9e-22,"hi":2.2e-22},{"f":120,"lo":1.45e-22,"hi":1.7e-22},{"f":130,"lo":1.2e-22,"hi":1.5e-22},{"f":140,"lo":1.05e-22,"hi":1.3e-22},{"f":150,"lo":9e-23,"hi":1.1e-22},{"f":165,"lo":7.2e-23,"hi":9e-23},{"f":178,"lo":6.2e-23,"hi":7.5e-23},{"f":190,"lo":7e-23,"hi":8.5e-23},{"f":200,"lo":8.5e-23,"hi":1e-22},{"f":215,"lo":1e-22,"hi":1.2e-22},{"f":230,"lo":1.4e-22,"hi":1.6e-22},{"f":240,"lo":1.7e-22,"hi":1.95e-22},{"f":250,"lo":1.6e-22,"hi":1.8e-22},{"f":262,"lo":1.4e-22,"hi":1.6e-22},{"f":275,"lo":1.1e-22,"hi":1.3e-22},{"f":290,"lo":9e-23,"hi":1e-22},{"f":305,"lo":7.2e-23,"hi":8.2e-23},{"f":316,"lo":6.3e-23,"hi":7.2e-23},{"f":330,"lo":7e-23,"hi":7.8e-23},{"f":350,"lo":7.2e-23,"hi":8.5e-23},{"f":370,"lo":9.5e-23,"hi":1.15e-22},{"f":390,"lo":1.35e-22,"hi":1.6e-22},{"f":410,"lo":1.9e-22,"hi":2.2e-22},{"f":420,"lo":2.1e-22,"hi":2.45e-22},{"f":440,"lo":1.55e-22,"hi":1.85e-22},{"f":460,"lo":1.15e-22,"hi":1.35e-22},{"f":490,"lo":8.5e-23,"hi":9.8e-23},{"f":520,"lo":7.6e-23,"hi":8.8e-23},{"f":560,"lo":8e-23,"hi":9.2e-23},{"f":600,"lo":8.5e-23,"hi":1e-22},{"f":630,"lo":1e-22,"hi":1.2e-22},{"f":650,"lo":1.2e-22,"hi":1.8e-22},{"f":700,"lo":1.15e-22,"hi":1.7e-22},{"f":800,"lo":1.1e-22,"hi":1.6e-22},{"f":1000,"lo":1.15e-22,"hi":1.7e-22},{"f":1250,"lo":1.4e-22,"hi":2.2e-22},{"f":1550,"lo":1.6e-22,"hi":2.45e-22},{"f":1900,"lo":1.75e-22,"hi":2.75e-22},{"f":2100,"lo":2e-22,"hi":3.2e-22},{"f":2460,"lo":2.45e-22,"hi":3.8e-22},{"f":3040,"lo":2.95e-22,"hi":4.5e-22},{"f":3740,"lo":3.5e-22,"hi":5.4e-22},{"f":4640,"lo":4e-22,"hi":6.8e-22},{"f":5400,"lo":5e-22,"hi":7.6e-22},{"f":5550,"lo":5.5e-22,"hi":8e-22},{"f":5700,"lo":8e-22,"hi":1e-21},{"f":5800,"lo":8.5e-22,"hi":1e-21},{"f":6000,"lo":7.2e-22,"hi":8.5e-22},{"f":6200,"lo":5.6e-22,"hi":6.2e-22},{"f":6400,"lo":6.5e-22,"hi":7.5e-22},{"f":6800,"lo":7.5e-22,"hi":9.5e-22},{"f":7200,"lo":8e-22,"hi":1.1e-21},{"f":7700,"lo":8.5e-22,"hi":1.3e-21},{"f":8300,"lo":9.5e-22,"hi":1.6e-21},{"f":8800,"lo":1e-21,"hi":1.8e-21},{"f":9300,"lo":9e-22,"hi":1.3e-21},{"f":10000,"lo":9.5e-22,"hi":1.4e-21}
  ]},
  "mark": {"type": "area", "clip": true, "color": "black"},
  "encoding": {
   "x": {"field": "f", "type": "quantitative", "scale": {"type": "log", "domain": [10, 10000], "nice": false}, "axis": null},
   "y": {"field": "lo", "type": "quantitative", "scale": {"type": "log", "domain": [1e-23, 1e-20], "nice": false}, "axis": null},
   "y2": {"field": "hi"},
   "color": {"value": "black"},
   "strokeDash": {"value": [1, 0]}
  }},
 {"transform": [{"filter": {"field": "s", "equal": "hVSR1"}}],
  "mark": {"type": "line", "clip": true, "strokeWidth": 2.1},
  "encoding": {
   "x": {"field": "f", "type": "quantitative", "scale": {"type": "log", "domain": [10, 10000], "nice": false},
     "axis": {"orient": "bottom", "values": [10, 100, 1000, 10000], "tickSize": 17, "labelFontSize": 30, "labelPadding": 11, "labelExpr": "format(datum.value, 'd')", "labelFlush": false, "labelOverlap": false, "title": "freq [Hz]", "titleFontSize": 38, "titleX": 543.5, "titleY": 110, "titleBaseline": "alphabetic", "titleAlign": "center", "titleAngle": 0}},
   "y": {"field": "h", "type": "quantitative", "scale": {"type": "log", "domain": [1e-23, 1e-20], "nice": false},
     "axis": {"orient": "left", "values": [1e-23, 1e-22, 1e-21, 1e-20], "tickSize": 15, "labelFontSize": 30, "labelPadding": 12, "labelExpr": "'1E-' + format(-log(datum.value)/LN10, '.0f')", "labelFlush": false, "labelOverlap": false, "title": "h(f) [1/sqrt(Hz)]", "titleFontSize": 43, "titleX": -161, "titleY": 363, "titleAngle": -90, "titleBaseline": "alphabetic", "titleAlign": "center"}}
  }},
 {"transform": [{"filter": {"field": "s", "equal": "Nominal Virgo"}}],
  "mark": {"type": "line", "clip": true, "strokeWidth": 2.2},
  "encoding": {
   "x": {"field": "f", "type": "quantitative", "scale": {"type": "log", "domain": [10, 10000], "nice": false},
     "axis": {"orient": "bottom", "values": [20, 30, 40, 50, 60, 70, 80, 90, 200, 300, 400, 500, 600, 700, 800, 900, 2000, 3000, 4000, 5000, 6000, 7000, 8000, 9000], "tickSize": 8, "labels": false, "domain": false, "title": null}},
   "y": {"field": "h", "type": "quantitative", "scale": {"type": "log", "domain": [1e-23, 1e-20], "nice": false},
     "axis": {"orient": "left", "values": [2e-23, 3e-23, 4e-23, 5e-23, 6e-23, 7e-23, 8e-23, 9e-23, 2e-22, 3e-22, 4e-22, 5e-22, 6e-22, 7e-22, 8e-22, 9e-22, 2e-21, 3e-21, 4e-21, 5e-21, 6e-21, 7e-21, 8e-21, 9e-21], "tickSize": 9, "labels": false, "domain": false, "title": null}}
  }},
 {"transform": [{"filter": {"field": "s", "equal": "Nominal TN Mirror"}}],
  "mark": {"type": "line", "clip": true, "strokeWidth": 1.4},
  "encoding": {
   "x": {"field": "f", "type": "quantitative", "scale": {"type": "log", "domain": [10, 10000], "nice": false},
     "axis": {"orient": "top", "values": [10, 100, 1000, 10000], "tickSize": 15, "labels": false, "title": null}},
   "y": {"field": "h", "type": "quantitative", "scale": {"type": "log", "domain": [1e-23, 1e-20], "nice": false},
     "axis": {"orient": "right", "values": [1e-23, 1e-22, 1e-21, 1e-20], "tickSize": -12, "labels": false, "title": null}}
  }},
 {"transform": [{"filter": {"field": "s", "equal": "TN of input mirrors \"a la Penn\""}}],
  "mark": {"type": "line", "clip": true, "strokeWidth": 1.4},
  "encoding": {
   "x": {"field": "f", "type": "quantitative", "scale": {"type": "log", "domain": [10, 10000], "nice": false},
     "axis": {"orient": "top", "values": [20, 30, 40, 50, 60, 70, 80, 90, 200, 300, 400, 500, 600, 700, 800, 900, 2000, 3000, 4000, 5000, 6000, 7000, 8000, 9000], "tickSize": 8, "labels": false, "domain": false, "title": null}},
   "y": {"field": "h", "type": "quantitative", "scale": {"type": "log", "domain": [1e-23, 1e-20], "nice": false},
     "axis": {"orient": "right", "values": [2e-23, 3e-23, 4e-23, 5e-23, 6e-23, 7e-23, 8e-23, 9e-23, 2e-22, 3e-22, 4e-22, 5e-22, 6e-22, 7e-22, 8e-22, 9e-22, 2e-21, 3e-21, 4e-21, 5e-21, 6e-21, 7e-21, 8e-21, 9e-21], "tickSize": -7, "labels": false, "domain": false, "title": null}}
  }},
 {"transform": [{"filter": {"field": "s", "equal": "shot20/2"}}],
  "mark": {"type": "line", "clip": true, "strokeWidth": 2.4}},
 {"transform": [{"filter": {"field": "s", "equal": "shot50/2"}}],
  "mark": {"type": "line", "clip": true, "strokeWidth": 2}}
],
"resolve": {"axis": {"x": "independent", "y": "independent"}}
}
